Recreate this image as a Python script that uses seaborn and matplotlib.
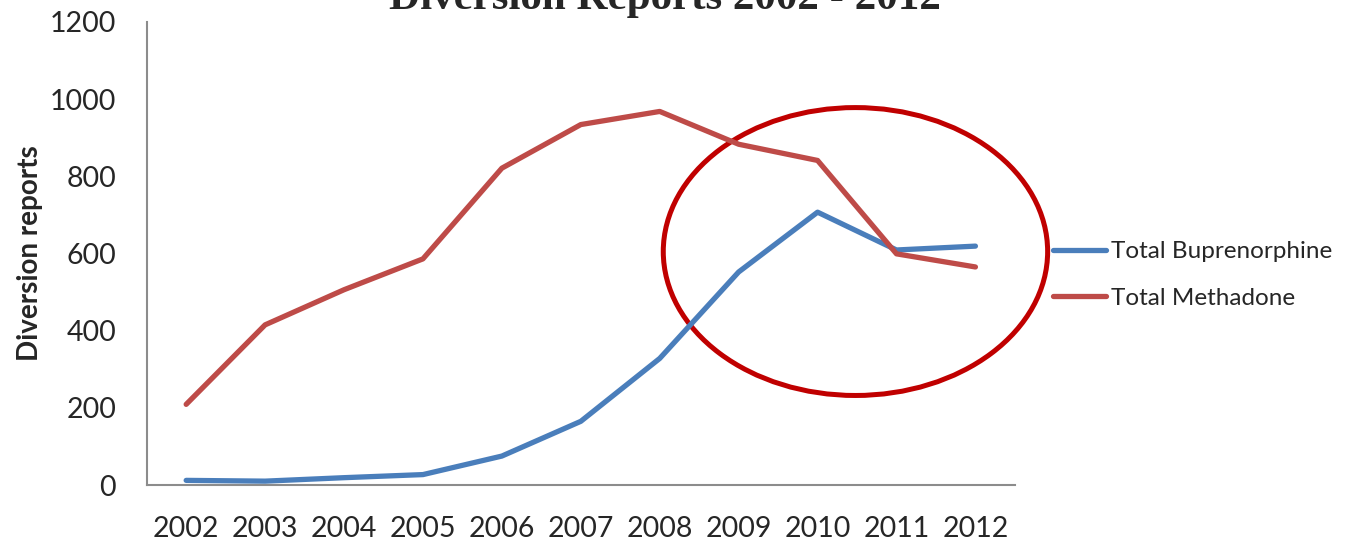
import pandas as pd
import matplotlib
matplotlib.use('Agg')
import matplotlib.pyplot as plt
from matplotlib.patches import Ellipse
import seaborn as sns

# values
years = [2002, 2003, 2004, 2005, 2006, 2007, 2008, 2009, 2010, 2011, 2012]
buprenorphine = [12, 10, 19, 27, 75, 165, 328, 552, 707, 609, 619]
methadone = [209, 415, 506, 586, 821, 934, 968, 883, 841, 599, 565]
series_names = ['Total Buprenorphine', 'Total Methadone']

df = pd.DataFrame({
    'year': years * 2,
    'reports': buprenorphine + methadone,
    'series': [series_names[0]] * len(years) + [series_names[1]] * len(years),
})

sns.set_style('white')
plt.rcParams['font.family'] = ['Lato', 'DejaVu Sans']

fig = plt.figure(figsize=(13.46, 5.41), dpi=100)
ax = fig.add_axes([0.109, 0.1035, 0.645, 0.856])

sns.lineplot(data=df, x='year', y='reports', hue='series',
             palette=['#4A7EBB', '#BE4B48'], linewidth=3.8,
             solid_capstyle='round', ax=ax, legend=True)

ax.set_xlim(2001.5, 2012.5)
ax.set_ylim(0, 1200)
ax.set_xticks(years)
ax.set_xticklabels([str(y) for y in years])
ax.set_yticks(range(0, 1201, 200))
ax.tick_params(axis='x', labelsize=20.5, pad=22, length=0)
ax.tick_params(axis='y', labelsize=20.5, pad=22, length=0)
ax.set_xlabel('')
ax.set_ylabel('Diversion reports', fontsize=20, fontweight='bold')
ax.yaxis.set_label_coords(-0.12, 0.5)

for side in ['top', 'right']:
    ax.spines[side].set_visible(False)
for side in ['left', 'bottom']:
    ax.spines[side].set_color('#8C8C8C')
    ax.spines[side].set_linewidth(1.5)

ax.add_patch(Ellipse((2010.48, 605), 4.87, 746, fill=False,
                     edgecolor='#C00000', linewidth=3.6, clip_on=False))

ax.legend(handles=ax.get_legend().legend_handles, labels=series_names,
          loc='center left', bbox_to_anchor=(0.7823, 0.4917),
          bbox_transform=fig.transFigure, frameon=False,
          fontsize=17.5, handlelength=2.2, handletextpad=0.2,
          labelspacing=1.05, borderpad=0, borderaxespad=0)

fig.text(0.494, 0.984, 'Diversion Reports 2002 - 2012', ha='center', va='baseline',
         fontsize=31, fontweight='bold', family='Liberation Serif')

fig.savefig('out.png', dpi=100)
